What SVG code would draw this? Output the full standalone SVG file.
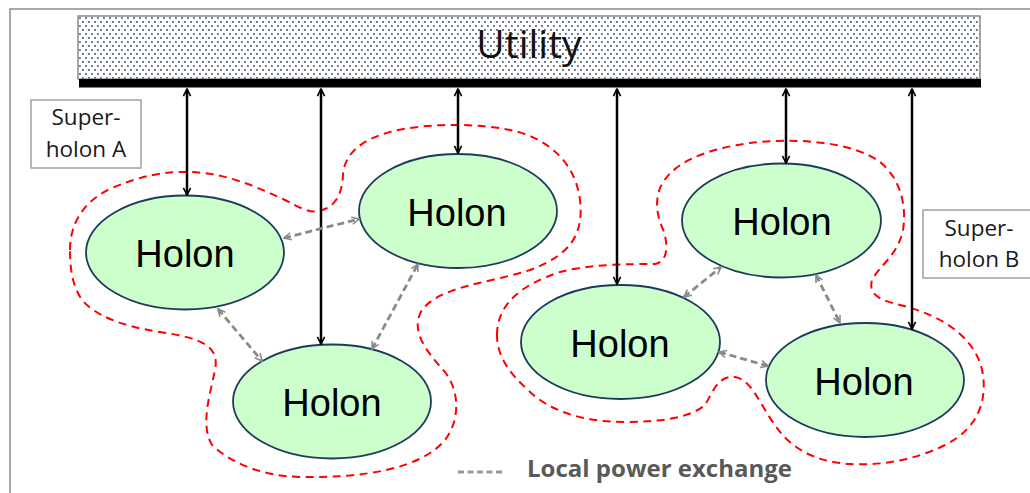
<svg xmlns="http://www.w3.org/2000/svg" width="1030" height="493" viewBox="0 0 1030 493">
  <style>
    .frame { stroke: #8c8c8c; stroke-width: 1.5; fill: none; }
    .holon ellipse { fill: #ccffcc; stroke: #1d3b5c; stroke-width: 1.8; }
    .holon text { font-family: "Liberation Sans", Arial, sans-serif; font-size: 38px; fill: #000; text-anchor: middle; }
    .label rect { fill: #fff; stroke: #a0a0a0; stroke-width: 1.5; }
    .label text { font-family: "Open Sans", "Liberation Sans", sans-serif; font-size: 22.5px; fill: #1a1a1a; text-anchor: middle; }
    .grid { stroke: #000; stroke-width: 2.5; fill: none; marker-start: url(#headBlack); marker-end: url(#headBlack); }
    .local { stroke: #8a8a8a; stroke-width: 2.8; fill: none; stroke-dasharray: 7 4; marker-start: url(#headGray); marker-end: url(#headGray); }
    .boundary { stroke: #ff0000; stroke-width: 2; fill: none; stroke-dasharray: 8 5.5; }
  </style>
  <defs>
    <pattern id="dots" width="6" height="8" patternUnits="userSpaceOnUse" x="79" y="17">
      <rect width="6" height="8" fill="#fff"/>
      <rect x="0" y="0" width="1.9" height="1.9" fill="#637381"/>
      <rect x="3" y="4" width="1.9" height="1.9" fill="#637381"/>
    </pattern>
    <marker id="headBlack" viewBox="0 0 10 10" refX="9" refY="5" markerWidth="9" markerHeight="10" markerUnits="userSpaceOnUse" orient="auto-start-reverse">
      <path d="M1,1 L9,5 L1,9" fill="none" stroke="#000" stroke-width="1.8"/>
    </marker>
    <marker id="headGray" viewBox="0 0 10 10" refX="9" refY="5" markerWidth="9" markerHeight="10" markerUnits="userSpaceOnUse" orient="auto-start-reverse">
      <path d="M1,1 L9,5 L1,9" fill="none" stroke="#8a8a8a" stroke-width="1.8"/>
    </marker>
  </defs>

  <!-- page frame -->
  <path class="frame" d="M10,493 L10,9 L1030,9"/>

  <!-- utility bus -->
  <g id="utility">
    <rect x="78" y="16" width="902" height="63" fill="url(#dots)" stroke="#8c8c8c" stroke-width="1.5"/>
    <rect x="79" y="79" width="902" height="8.5" fill="#000"/>
    <text x="529" y="58" font-family="Open Sans, Liberation Sans, sans-serif" font-size="39" fill="#111" text-anchor="middle">Utility</text>
  </g>

  <!-- super-holon boundaries -->
  <g id="superholon-a-boundary">
    <path class="boundary" d="M70,250 C70,222 85,200 112,188 C140,176 165,171 190,172 C225,173 255,186 285,200 C300,208 310,213 318,211 C335,208 342,195 343,175 C344,155 360,140 390,132 C420,124 470,122 510,130 C545,137 575,160 580,200 C584,235 570,255 530,270 C490,283 440,286 422,310 C410,330 425,350 445,372 C460,392 460,420 445,440 C420,470 360,478 300,477 C260,476 230,462 212,445 C200,425 210,395 215,370 C220,345 200,338 160,332 C120,326 95,315 82,300 C72,285 70,268 70,250 Z"/>
  </g>
  <g id="superholon-b-boundary">
    <path class="boundary" d="M497,335 C497,305 520,285 560,272 C590,264 630,264 655,264 C668,262 668,245 664,232 C658,218 654,205 660,188 C670,165 700,150 750,143 C790,138 850,140 880,162 C900,178 907,205 903,230 C898,255 880,265 872,280 C868,295 880,300 900,305 C945,316 978,340 983,375 C987,405 975,430 945,445 C915,460 880,466 850,464 C815,462 790,448 775,425 C760,405 752,380 735,377 C718,375 713,392 705,405 C690,418 660,422 625,422 C585,422 550,412 528,390 C508,372 497,355 497,335 Z"/>
  </g>

  <!-- holons -->
  <g id="holon-a1" class="holon">
    <ellipse cx="185" cy="252.5" rx="99" ry="57"/>
    <text x="185" y="267">Holon</text>
  </g>
  <g id="holon-a2" class="holon">
    <ellipse cx="458" cy="211" rx="99" ry="57"/>
    <text x="457" y="226">Holon</text>
  </g>
  <g id="holon-a3" class="holon">
    <ellipse cx="332" cy="401.5" rx="99" ry="57"/>
    <text x="332" y="416">Holon</text>
  </g>
  <g id="holon-b1" class="holon">
    <ellipse cx="781.5" cy="220.5" rx="99.5" ry="57"/>
    <text x="782" y="235">Holon</text>
  </g>
  <g id="holon-b2" class="holon">
    <ellipse cx="620.5" cy="342" rx="99.5" ry="57"/>
    <text x="620" y="357">Holon</text>
  </g>
  <g id="holon-b3" class="holon">
    <ellipse cx="865" cy="380" rx="99" ry="57"/>
    <text x="864" y="395">Holon</text>
  </g>

  <!-- labels -->
  <g id="label-superholon-a" class="label">
    <rect x="31" y="100" width="110" height="68"/>
    <text x="86" y="125">Super-</text>
    <text x="86" y="157">holon A</text>
  </g>
  <g id="label-superholon-b" class="label">
    <rect x="923" y="210" width="115" height="68"/>
    <text x="979" y="236">Super-</text>
    <text x="979" y="267">holon B</text>
  </g>

  <!-- connectors -->
  <g id="connectors">
    <!-- utility links -->
    <line class="grid" x1="187" y1="89" x2="187" y2="195"/>
    <line class="grid" x1="321" y1="89" x2="321" y2="344"/>
    <line class="grid" x1="458" y1="89" x2="458" y2="153"/>
    <line class="grid" x1="617" y1="89" x2="617" y2="284"/>
    <line class="grid" x1="786" y1="89" x2="786" y2="163"/>
    <line class="grid" x1="912" y1="89" x2="912" y2="329"/>
    <!-- local power exchange -->
    <line class="local" x1="284" y1="238" x2="359" y2="219"/>
    <line class="local" x1="218" y1="309" x2="262" y2="361"/>
    <line class="local" x1="372" y1="349" x2="418" y2="264"/>
    <line class="local" x1="684" y1="297" x2="721" y2="267"/>
    <line class="local" x1="719" y1="352" x2="768" y2="366"/>
    <line class="local" x1="816" y1="275" x2="840" y2="323"/>
  </g>

  <!-- legend -->
  <g id="legend">
    <line x1="458" y1="472" x2="503" y2="472" stroke="#999" stroke-width="2.8" stroke-dasharray="6 3.5"/>
    <text x="527" y="477" font-family="Open Sans, Liberation Sans, sans-serif" font-size="24" font-weight="bold" fill="#595959" textLength="265" lengthAdjust="spacingAndGlyphs">Local power exchange</text>
  </g>
</svg>
